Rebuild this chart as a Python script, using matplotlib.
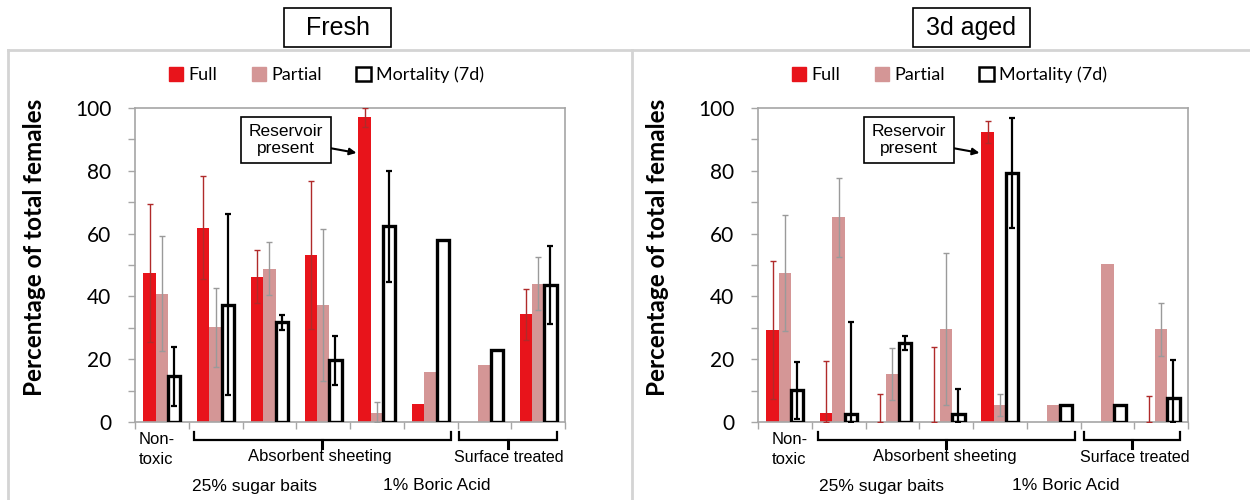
import matplotlib
matplotlib.use("Agg")
import matplotlib.pyplot as plt
import numpy as np
from matplotlib.patches import Patch
from matplotlib.lines import Line2D

# ---------------- data ----------------
series = ["Full", "Partial", "Mortality (7d)"]
n_groups = 8

fresh_full = [47.5, 61.9, 46.3, 53.2, 97.1, 5.6, 0.0, 34.3]
fresh_full_err = [21.9, 16.4, 8.4, 23.7, 3.0, 0.0, 0.0, 8.1]
fresh_partial = [40.9, 30.1, 48.8, 37.3, 2.9, 15.8, 18.3, 44.1]
fresh_partial_err = [18.2, 12.6, 8.4, 24.3, 3.4, 0.0, 0.0, 8.3]
fresh_mort = [14.5, 37.4, 31.7, 19.6, 62.3, 57.9, 22.8, 43.6]
fresh_mort_err = [9.3, 28.8, 2.4, 7.8, 17.7, 0.0, 0.0, 12.3]

aged_full = [29.2, 2.8, 0.0, 0.0, 92.3, 0.0, 0.0, 0.0]
aged_full_err = [22.0, 16.5, 8.9, 23.9, 3.5, 0.0, 0.0, 8.4]
aged_partial = [47.5, 65.2, 15.4, 29.6, 5.4, 5.4, 50.2, 29.5]
aged_partial_err = [18.4, 12.5, 8.3, 24.3, 3.4, 0.0, 0.0, 8.4]
aged_mort = [10.1, 2.7, 25.1, 2.7, 79.4, 5.4, 5.4, 7.5]
aged_mort_err = [9.1, 29.1, 2.3, 7.8, 17.5, 0.0, 0.0, 12.2]

yticks = [0, 20, 40, 60, 80, 100]
panel_titles = ["Fresh", "3d aged"]
ylabel = "Percentage of total females"
annot_text = "Reservoir\npresent"
group_labels = ["Non-\ntoxic", "Absorbent sheeting", "Surface treated"]
bottom_labels = ["25% sugar baits", "1% Boric Acid"]

# ---------------- style ----------------
C_FULL = "#e8141b"
C_PART = "#d49696"
C_FULL_ERR = "#b02a2a"
C_PART_ERR = "#9a9a9a"
SPINE = "#a6a6a6"
CAL = ["Lato", "DejaVu Sans"]
ARI = ["Liberation Sans", "DejaVu Sans"]

W, H = 1250, 500
fig = plt.figure(figsize=(12.5, 5), dpi=100)

def fx(px):
    return px / W

def fy(py):
    return 1 - py / H

panels = [
    dict(x0=135, full=fresh_full, fe=fresh_full_err, part=fresh_partial, pe=fresh_partial_err,
         mort=fresh_mort, me=fresh_mort_err, title_box=(284, 391),
         nontox_x=0.41, abs_br=(1.10, 5.88, 3.47), surf_br=(6.03, 7.85, 6.94),
         abs_x=3.44, surf_x=6.96, bl_x=(2.23, 5.62), leg_x=0.445),
    dict(x0=758, full=aged_full, fe=aged_full_err, part=aged_partial, pe=aged_partial_err,
         mort=aged_mort, me=aged_mort_err, title_box=(913, 1030),
         nontox_x=0.59, abs_br=(1.12, 5.90, 3.50), surf_br=(6.07, 7.85, 6.96),
         abs_x=3.48, surf_x=7.01, bl_x=(2.29, 5.72), leg_x=0.445),
]

ax_top, ax_bot = 108, 422
ax_w = 430

# panel frame lines
frame_c = "#d4d4d4"
fig.add_artist(Line2D([fx(8), 1], [fy(50), fy(50)], color=frame_c, lw=2, transform=fig.transFigure))
fig.add_artist(Line2D([fx(8), fx(8)], [fy(50), 0], color=frame_c, lw=2, transform=fig.transFigure))
fig.add_artist(Line2D([fx(632), fx(632)], [fy(50), 0], color=frame_c, lw=2, transform=fig.transFigure))

bw = 0.23
x = np.arange(n_groups) + 0.5

def yax(py):
    return (ax_bot - py) / (ax_bot - ax_top)

for i, p in enumerate(panels):
    ax = fig.add_axes([fx(p["x0"]), fy(ax_bot), ax_w / W, (ax_bot - ax_top) / H])
    full = np.array(p["full"]); part = np.array(p["part"]); mort = np.array(p["mort"])
    ax.bar(x - bw, full, bw, color=C_FULL, zorder=2)
    ax.bar(x, part, bw, color=C_PART, zorder=2)
    ax.bar(x + bw, mort, bw, facecolor="white", edgecolor="black", linewidth=2.4, zorder=3)
    fe = np.array(p["fe"]); pe = np.array(p["pe"]); me = np.array(p["me"])
    mf = fe > 0
    ax.errorbar((x - bw)[mf], full[mf], yerr=[np.minimum(fe, full)[mf], fe[mf]], fmt="none",
                ecolor=C_FULL_ERR, elinewidth=1.0, capsize=2, capthick=1.0, zorder=4)
    mp = pe > 0
    ax.errorbar(x[mp], part[mp], yerr=[np.minimum(pe, part)[mp], pe[mp]], fmt="none",
                ecolor=C_PART_ERR, elinewidth=1.0, capsize=2, capthick=1.0, zorder=4)
    mm = me > 0
    ax.errorbar((x + bw)[mm], mort[mm], yerr=[np.minimum(me, mort)[mm], me[mm]], fmt="none",
                ecolor="black", elinewidth=1.6, capsize=2, capthick=1.6, zorder=4)

    ax.set_xlim(0, n_groups)
    ax.set_ylim(0, 100)
    ax.set_yticks(yticks)
    ax.set_yticklabels([str(t) for t in yticks], fontsize=15, family=CAL)
    ax.set_yticks(np.arange(10, 100, 20), minor=True)
    ax.set_xticks([])
    ax.set_xticks(np.arange(0, n_groups + 1), minor=True)
    ax.tick_params(axis="y", which="both", color=SPINE, length=5, width=1, pad=12)
    ax.tick_params(axis="x", which="minor", color=SPINE, length=5, width=1)
    for s in ax.spines.values():
        s.set_color(SPINE)
        s.set_linewidth(1.2)
    ax.set_ylabel(ylabel, fontsize=17.5, fontweight="bold", family=CAL)
    ax.yaxis.set_label_coords(-0.208, 0.555)

    # legend
    handles = [Patch(facecolor=C_FULL, edgecolor=C_FULL),
               Patch(facecolor=C_PART, edgecolor=C_PART),
               Patch(facecolor="white", edgecolor="black", linewidth=1.8)]
    ax.legend(handles, series, ncol=3, loc="center", bbox_to_anchor=(p["leg_x"], yax(75)),
              frameon=False, prop=dict(family=CAL, size=13), handlelength=0.8,
              handleheight=0.8, handletextpad=0.3, columnspacing=1.9)

    # title box
    tb = p["title_box"]
    fig.text(fx((tb[0] + tb[1]) / 2), fy(28), panel_titles[i], ha="center", va="center",
             fontsize=18, family=ARI)
    fig.add_artist(plt.Rectangle((fx(tb[0]), fy(47)), fx(tb[1] - tb[0]), 39 / H,
                                 fill=False, edgecolor="black", lw=1.2, transform=fig.transFigure))

    # annotation
    ax.annotate(annot_text, xy=(4.12, 85.7), xytext=(2.80, 89.8), ha="center", va="center",
                fontsize=12.5, family=ARI, linespacing=1.1,
                bbox=dict(boxstyle="square,pad=0.45", facecolor="white", edgecolor="black", lw=1.2),
                arrowprops=dict(arrowstyle="-|>", color="black", lw=1.5, mutation_scale=10,
                                shrinkA=0, shrinkB=0),
                zorder=6)

    # bottom grouping labels
    tr = ax.get_xaxis_transform()
    ax.text(p["nontox_x"], yax(440), "Non-", ha="center", va="center", fontsize=12, family=ARI,
            transform=tr)
    ax.text(p["nontox_x"] - 0.02, yax(460), "toxic", ha="center", va="center", fontsize=12,
            family=ARI, transform=tr)
    for (a, b, c) in (p["abs_br"], p["surf_br"]):
        ax.plot([a, a, b, b], [yax(432), yax(440), yax(440), yax(432)], color="black", lw=1.6,
                transform=tr, clip_on=False, solid_joinstyle="miter")
        ax.plot([c, c], [yax(440), yax(448)], color="black", lw=2.2, transform=tr, clip_on=False)
    ax.text(p["abs_x"], yax(457), group_labels[1], ha="center", va="center", fontsize=12,
            family=ARI, transform=tr)
    ax.text(p["surf_x"], yax(457), group_labels[2], ha="center", va="center", fontsize=11.5,
            family=ARI, transform=tr)
    ax.text(p["bl_x"][0], yax(486), bottom_labels[0], ha="center", va="center", fontsize=12.5,
            family=ARI, transform=tr)
    ax.text(p["bl_x"][1], yax(486), bottom_labels[1], ha="center", va="center", fontsize=12.5,
            family=ARI, transform=tr)

fig.savefig("out.png", dpi=100)
